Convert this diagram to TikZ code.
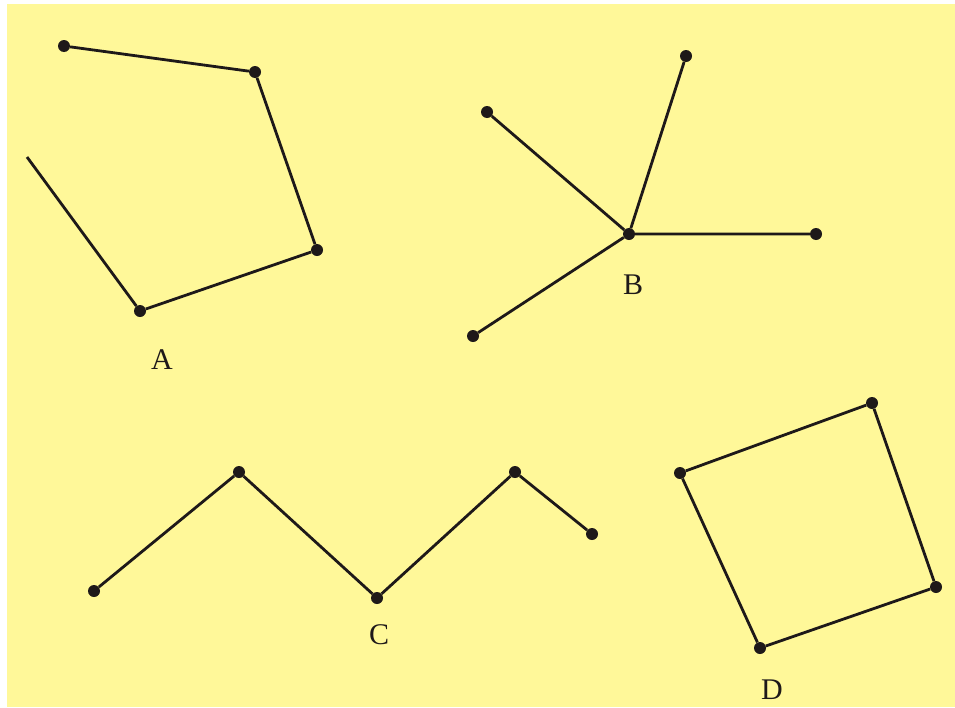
\documentclass[tikz,border=0pt]{standalone}
\usepackage{fontspec}
\setmainfont{Liberation Serif}
\definecolor{pagebg}{RGB}{255,248,153}
\definecolor{ink}{RGB}{30,25,25}
\tikzset{
  pt/.style={circle, fill=ink, inner sep=0pt, minimum size=12pt},
  seg/.style={draw=ink, line width=2.8pt},
  lbl/.style={font=\fontsize{30}{32}\selectfont, text=ink}
}
\begin{document}
\begin{tikzpicture}[x=1pt, y=-1pt]
                \useasboundingbox (0,0) rectangle (955,707);
                \fill[white] (0,0) rectangle (955,707);
                \fill[pagebg] (7,4) rectangle (955,707);
                % A
                \node[pt] (a1) at (64,46) {};
                \node[pt] (a2) at (255,72) {};
                \node[pt] (a3) at (317,250) {};
                \node[pt] (a4) at (140,311) {};
                \coordinate (a0) at (27,157);
                \draw[seg] (a1) -- (a2) -- (a3) -- (a4) -- (a0);
                \node[lbl] (la) at (162,360) {A};
                % B
                \node[pt] (b0) at (629,234) {};
                \node[pt] (b1) at (487,112) {};
                \node[pt] (b2) at (686,56) {};
                \node[pt] (b3) at (816,234) {};
                \node[pt] (b4) at (473,336) {};
                \draw[seg] (b0) -- (b1) (b0) -- (b2) (b0) -- (b3) (b0) -- (b4);
                \node[lbl] (lb) at (633,285) {B};
                % C
                \node[pt] (c1) at (94,591) {};
                \node[pt] (c2) at (239,472) {};
                \node[pt] (c3) at (377,598) {};
                \node[pt] (c4) at (515,472) {};
                \node[pt] (c5) at (592,534) {};
                \draw[seg] (c1) -- (c2) -- (c3) -- (c4) -- (c5);
                \node[lbl] (lc) at (379,635) {C};
                % D
                \node[pt] (d1) at (680,473) {};
                \node[pt] (d2) at (872,403) {};
                \node[pt] (d3) at (936,587) {};
                \node[pt] (d4) at (760,648) {};
                \draw[seg] (d1) -- (d2) -- (d3) -- (d4) -- (d1);
                \node[lbl] (ld) at (772,690) {D};
            \end{tikzpicture}
\end{document}
